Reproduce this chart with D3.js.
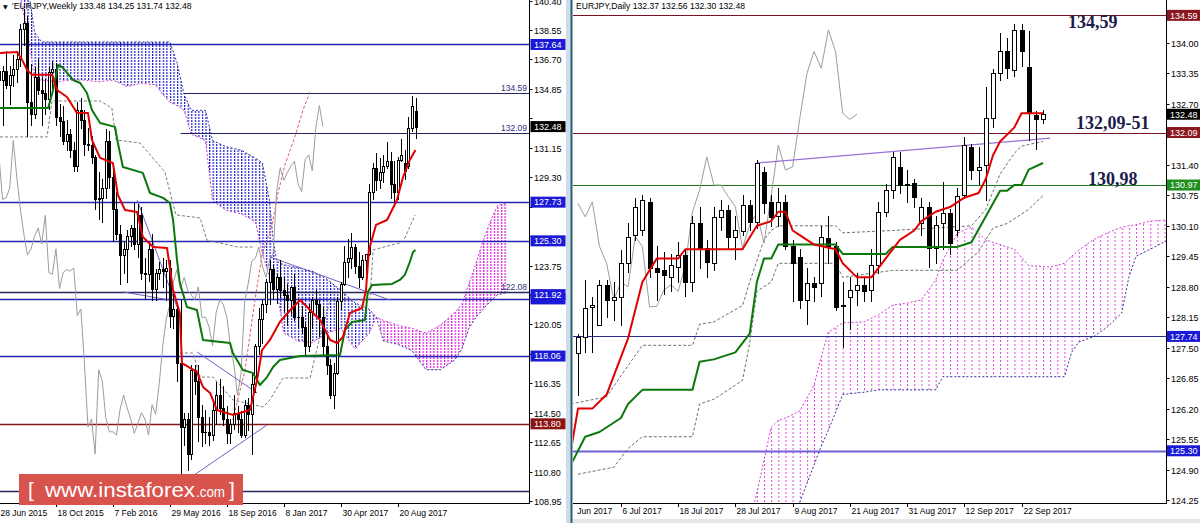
<!DOCTYPE html>
<html><head><meta charset="utf-8">
<script src="https://cdnjs.cloudflare.com/ajax/libs/d3/7.8.5/d3.min.js"></script>
<style>body{margin:0;background:#fff;overflow:hidden}svg{display:block}</style>
</head><body>
<svg id="c" width="1200" height="523"></svg>
<script>
// ===================== DATA =====================
// Weekly EURJPY candles [open, high, low, close], week starting 28 Jun 2015 .. 24 Sep 2017
const weeklyOHLC = [
[136.0,137.3,133.3,135.4],[135.4,136.3,132.6,136.0],[136.0,137.2,134.9,135.1],[135.1,136.3,133.9,135.7],
[135.7,137.0,135.0,136.1],[136.1,137.2,135.3,136.7],[136.7,138.9,136.3,138.6],[138.6,139.9,137.6,139.0],
[139.0,139.4,131.9,134.0],[134.0,136.4,132.6,133.3],[133.3,136.2,133.0,135.6],[135.6,136.7,134.5,134.8],
[134.8,135.6,132.6,134.6],[134.6,135.5,133.3,134.2],[134.2,136.2,133.6,135.9],[135.9,136.6,134.9,136.1],
[136.1,136.5,132.6,133.1],[133.1,133.9,131.9,132.8],[132.8,133.8,131.4,131.6],[131.6,132.9,131.0,132.0],
[132.0,132.3,130.6,131.0],[131.0,131.5,129.7,130.0],[130.0,134.0,129.7,133.5],[133.5,134.3,132.4,132.9],
[132.9,133.5,130.7,131.4],[131.4,132.4,131.0,131.3],[131.3,131.9,130.2,130.6],[130.6,130.7,127.3,127.9],
[127.9,129.6,126.7,128.0],[128.0,129.2,126.5,128.6],[128.6,132.3,128.0,131.6],[131.6,132.2,128.6,129.3],
[129.3,129.8,125.3,127.3],[127.3,128.4,125.4,125.7],[125.7,126.3,122.6,124.4],[124.4,125.2,123.3,124.8],
[124.8,126.0,122.7,125.6],[125.6,126.3,125.0,126.1],[126.1,127.7,124.8,125.1],[125.1,127.6,124.3,126.9],
[126.9,127.4,122.9,123.3],[123.3,124.2,121.7,123.2],[123.2,125.2,122.8,124.8],[124.8,125.7,121.6,122.3],
[122.3,123.5,121.6,123.3],[123.3,124.0,122.9,123.5],[123.5,124.2,122.4,123.4],[123.4,124.1,121.6,123.6],
[123.6,124.1,119.9,120.6],[120.6,122.0,119.8,121.0],[121.0,121.2,116.5,117.6],[117.6,121.6,109.6,113.6],
[113.6,114.5,112.5,114.1],[114.1,114.5,110.9,111.9],[111.9,117.5,111.6,117.2],[117.2,117.5,115.7,116.5],
[116.5,117.5,112.7,114.2],[114.2,115.0,112.4,113.3],[113.3,114.7,112.6,113.3],[113.3,114.2,112.5,113.1],
[113.1,115.2,112.8,114.7],[114.7,116.4,113.8,115.6],[115.6,116.6,114.4,114.8],[114.8,116.2,113.7,114.1],
[114.1,114.9,112.6,113.2],[113.2,114.1,112.6,113.8],[113.8,115.6,113.5,114.5],[114.5,114.9,113.3,114.1],
[114.1,114.6,113.0,113.1],[113.1,115.3,113.0,115.0],[115.0,115.4,113.4,114.4],[114.4,117.0,111.9,116.3],
[116.3,118.8,115.8,118.7],[118.7,121.1,118.2,120.4],[120.4,121.6,118.9,121.3],[121.3,122.9,120.8,122.7],
[122.7,124.1,121.3,123.5],[123.5,123.8,121.7,122.3],[122.3,123.2,121.4,123.0],[123.0,124.1,121.8,122.2],
[122.2,123.0,120.9,121.9],[121.9,122.6,120.0,121.6],[121.6,122.4,120.7,122.4],[122.4,123.2,120.3,120.5],
[120.5,121.4,119.8,120.5],[120.5,121.2,119.5,119.9],[119.9,120.2,118.2,118.7],[118.7,121.3,118.4,120.8],
[120.8,121.8,119.8,121.6],[121.6,122.2,120.7,121.3],[121.3,121.6,119.3,120.5],[120.5,121.2,118.2,118.7],
[118.7,119.3,116.9,117.5],[117.5,117.9,115.4,115.6],[115.6,117.6,114.8,117.0],[117.0,121.8,116.9,121.5],
[121.5,122.7,121.0,122.6],[122.6,125.0,122.5,124.0],[124.0,125.4,123.0,124.2],[124.2,125.8,123.6,124.9],
[124.9,125.1,123.3,123.7],[123.7,124.6,122.4,123.0],[123.0,124.4,122.9,124.1],[124.1,124.4,123.3,124.5],
[124.5,128.9,124.4,128.4],[128.4,130.2,127.9,129.9],[129.9,130.8,128.5,129.1],[129.1,130.5,128.6,129.6],
[129.6,130.7,129.0,130.0],[130.0,131.5,129.9,130.3],[130.3,130.9,128.0,128.9],[128.9,130.3,127.5,128.4],
[128.4,130.6,127.9,130.4],[130.4,131.7,130.3,130.7],[130.2,131.0,129.2,129.7],[130.0,133.1,129.9,132.4],
[132.4,134.4,132.2,133.8],[133.48,134.25,131.74,132.48]
];
const weeklyDateLabels = ["28 Jun 2015","18 Oct 2015","7 Feb 2016","29 May 2016","18 Sep 2016","8 Jan 2017","30 Apr 2017","20 Aug 2017"];
const weeklyDateIdx = [0,16,32,48,64,80,96,112];
const weeklyPriceTicks = [108.95,110.80,112.65,114.50,116.35,118.20,120.05,121.90,123.75,125.60,127.45,129.30,131.15,133.00,134.85,136.70,138.55,140.40];

// weekly indicator lines [bar index, price]
const weeklyTenkan = [[0.3,137.11],[5.1,137.17],[6.5,136.67],[7.9,136.04],[9.3,135.73],[14.9,135.73],[16.3,134.78],[19.1,134.34],[21.9,133.34],[25.0,133.34],[26.1,131.64],[28.4,130.51],[32.0,130.19],[33.4,128.18],[35.4,127.24],[38.8,127.11],[40.4,125.54],[43.3,124.91],[47.2,124.85],[48.9,122.21],[50.8,120.77],[51.4,117.62],[53.7,117.31],[55.6,117.06],[57.3,116.12],[59.3,115.74],[61.2,114.67],[65.7,114.36],[70.5,114.67],[72.5,116.56],[73.9,118.44],[76.1,119.07],[78.9,120.2],[82.6,121.14],[84.6,121.58],[87.4,120.95],[90.2,120.33],[93.0,119.07],[95.0,118.88],[96.6,119.26],[98.6,120.77],[102.0,121.08],[103.1,122.21],[103.9,124.73],[105.9,126.3],[109.0,126.61],[111.8,127.87],[113.5,129.31],[115.4,130.38],[117.0,131.01]];
const weeklyKijun = [[0.3,133.65],[13.8,133.65],[15.2,134.78],[16.6,136.35],[17.7,136.23],[20.8,135.41],[22.8,135.22],[24.7,134.59],[26.1,133.52],[28.4,132.71],[32.6,132.46],[33.4,131.45],[34.8,129.94],[40.4,129.57],[42.4,128.31],[46.1,128.0],[48.0,127.68],[48.9,126.61],[50.0,124.1],[50.8,122.65],[52.8,121.14],[55.6,120.95],[57.3,119.07],[64.9,118.88],[65.7,118.25],[68.5,117.18],[71.3,117.0],[73.3,116.24],[75.3,116.74],[77.0,117.37],[78.9,117.81],[84.6,118.06],[95.8,118.13],[97.2,119.7],[99.2,120.2],[102.8,120.33],[103.6,122.09],[104.8,122.53],[110.4,122.59],[112.6,122.84],[114.0,123.16],[115.4,123.97],[116.3,124.6],[117.0,124.73]];
const weeklyRedDash = [[65.7,114.04],[69.1,117.18],[71.9,121.58],[73.9,124.41],[76.7,126.3],[78.4,128.31],[80.3,130.07],[83.1,131.83],[85.4,133.53],[87.4,134.66]];
const weeklyGrayDash1 = [[0.3,131.83],[13.5,131.83],[14.9,134.09],[28.4,134.09],[31.7,133.65],[32.9,131.64],[39.6,131.45],[46.6,129.63],[49.7,126.93],[56.5,126.74],[58.4,125.35],[67.1,124.91],[71.9,124.91]];
const weeklyGrayDash2 = [[50.8,118.25],[54.5,118.25],[56.5,116.74],[60.1,116.74],[65.7,115.3],[74.2,114.86],[76.1,115.3],[79.8,116.68],[87.4,116.68],[89.6,118.76],[93.0,121.58],[104.2,121.58],[105.1,124.73],[113.5,125.23],[116.9,126.93]];
const weeklyTrendlines = [[[34.8,122.09],[48.0,121.58]],[[38.8,127.87],[50.0,121.14]],[[55.6,118.32],[72.5,115.74]],[[52.8,110.27],[75.3,113.73]],[[76.1,124.29],[109.8,121.58]]];
// weekly Ichimoku cloud (Senkou A / Senkou B)
const weeklyCloudIdx = [4,6,8,9,10,12,16,20,24,28,32,36,40,44,46,48,50,52,54,58,60,64,68,72,74,76,77,78,80,84,88,92,96,100,104,106,108,112,116,120,124,128,130,132,134,136,138,140,143];
const weeklySpanA = [141.5,140.5,138.4,137.0,135.4,135.4,135.3,135.4,135.4,135.3,135.4,135.0,135.2,135.1,134.5,134.0,133.8,133.5,132.0,131.6,127.8,127.2,127.0,126.5,124.5,123.0,122.6,122.3,119.5,119.0,118.9,119.5,119.8,118.5,119.5,120.5,120.3,120.0,119.8,119.5,120.0,120.8,121.3,122.6,123.9,125.3,126.5,127.5,127.73];
const weeklySpanB = [142.5,142,141.5,140,138.4,137.8,137.8,137.8,137.8,137.8,137.8,137.8,137.8,137.8,137.8,137.8,136.5,134.5,133.5,133.5,131.6,131.2,131.0,130.5,130.2,127.8,125.4,124.0,123.8,123.6,123.4,122.9,122.2,121.4,121.0,120.5,119.0,118.8,118.4,117.2,117.2,117.8,118.5,119.8,120.5,121.0,121.5,121.9,122.08];
const weeklyLevels = [137.64,134.59,132.09,127.73,125.30,122.08,121.65,118.06,113.80,109.55];
const weeklyLevelFrom = [0,52,51,0,0,0,0,0,0,0];
const weeklyTextLevels = [134.59,132.09,122.08];
const weeklyBoxes = [137.64,127.73,125.30,121.65,121.92,118.06,113.80,132.48];

// Daily EURJPY candles [open, high, low, close], 28 Jun 2017 .. 27 Sep 2017
const dailyOHLC = [
[127.38,127.80,126.49,127.73],[127.73,128.94,127.41,128.34],[128.37,128.59,127.41,128.40],[127.98,128.94,127.98,128.84],
[128.84,128.94,128.16,128.52],[128.52,128.90,128.10,128.59],[128.59,129.58,127.98,129.30],[129.30,130.15,129.11,129.87],
[129.90,130.70,129.80,130.50],[130.00,130.76,129.90,130.65],[130.61,130.70,129.00,129.20],[129.20,129.66,128.52,129.12],
[129.15,129.55,128.65,129.05],[129.01,129.50,128.70,129.26],[129.23,129.75,128.90,129.48],[129.48,129.60,128.60,128.91],
[128.91,130.30,128.70,130.15],[130.15,130.50,129.20,129.62],[129.62,129.80,129.00,129.33],[129.30,130.50,129.15,130.29],
[130.29,130.65,130.00,130.44],[130.44,130.55,129.60,129.87],[129.87,130.30,129.40,130.01],[129.98,130.75,129.90,130.54],
[130.54,130.65,130.00,130.19],[130.18,131.50,130.05,131.44],[131.25,131.35,130.37,130.58],[130.61,130.75,130.10,130.29],
[130.30,130.90,130.10,130.61],[130.61,130.75,129.60,129.66],[129.66,129.80,128.50,129.30],[129.44,129.60,128.35,128.52],
[128.52,129.20,128.00,128.89],[128.87,129.00,128.50,128.80],[128.89,130.10,128.60,129.87],[129.83,130.30,129.30,129.66],
[129.66,129.75,128.30,128.37],[128.42,128.90,127.52,128.38],[128.59,129.00,127.90,128.73],[128.73,129.10,128.40,128.84],
[128.84,129.00,128.50,128.70],[128.73,129.60,128.50,129.26],[129.26,130.60,129.10,130.40],[130.40,131.00,130.30,130.86],
[130.86,131.68,130.70,131.57],[131.36,131.68,130.80,130.97],[131.00,131.30,130.60,130.97],[131.01,131.10,130.50,130.72],
[130.15,130.70,129.90,130.51],[130.51,130.60,129.23,129.62],[129.62,130.30,129.30,130.12],[130.15,131.04,129.60,130.37],
[130.37,130.45,129.50,129.73],[130.02,130.90,129.90,130.74],[130.76,132.00,130.70,131.82],[131.79,131.85,131.10,131.29],
[131.30,131.79,131.00,131.36],[131.40,133.07,130.65,132.39],[132.39,133.45,132.20,133.35],[133.35,134.21,133.20,133.82],
[133.82,134.10,133.25,133.46],[133.42,134.40,133.30,134.28],[134.28,134.40,133.50,133.82],[133.48,134.25,131.93,132.50],
[132.46,132.55,131.74,132.37],[132.37,132.56,132.30,132.48]
];
const dailyDateLabels = ["26 Jun 2017","6 Jul 2017","18 Jul 2017","28 Jul 2017","9 Aug 2017","21 Aug 2017","31 Aug 2017","12 Sep 2017","22 Sep 2017"];
const dailyDateIdx = [-2,6,14,22,30,38,46,54,62];
const dailyPriceTicks = [124.25,124.90,125.55,126.20,126.85,127.50,128.15,128.80,129.45,130.10,130.75,131.40,132.05,132.70,133.35,134.00,134.65];
const dailyTenkan = [[-1,125.3],[0,126.2],[2,126.2],[4,126.5],[5,126.9],[7,127.7],[9,128.9],[11,129.4],[14,129.4],[15,129.6],[23,129.6],[25,130.1],[27,130.2],[28,130.4],[29,130.4],[30,130.0],[31,129.9],[33,129.7],[36,129.6],[37,129.3],[39,129.0],[41,129.0],[43,129.4],[45,129.8],[47,130.0],[48,130.2],[50,130.4],[52,130.5],[54,130.7],[56,130.8],[57,131.1],[58,131.6],[59,131.9],[61,132.2],[62,132.5],[65,132.5]];
const dailyKijun = [[-1,125.0],[1,125.6],[3,125.7],[6,126.0],[7,126.3],[9,126.6],[16,126.6],[17,127.2],[19,127.25],[22,127.4],[24,127.8],[25,128.9],[26,129.4],[27,129.4],[28,129.7],[36,129.7],[37,129.5],[43,129.5],[44,129.65],[53,129.65],[55,129.75],[57,130.3],[59,130.85],[60,130.85],[61,130.97],[62,130.97],[63,131.3],[65,131.44]];
const dailyDash1 = [[-1,126.3],[4,126.45],[6,126.9],[9,127.55],[16,127.55],[17,128.0],[19,128.05],[23,128.4],[24,128.9],[26,129.8],[27,130.0],[28,130.1],[36,130.1],[37,129.95],[44,130.0],[55,130.1],[57,130.45],[59,131.2],[61,131.65],[62,131.8],[65,131.9]];
const dailyDash2 = [[0,124.8],[5,124.95],[7,125.35],[9,125.6],[16,125.6],[17,126.3],[19,126.4],[23,126.8],[24,127.6],[25,128.7],[27,128.9],[28,129.3],[36,129.3],[37,129.0],[44,129.15],[53,129.15],[56,129.55],[58,130.05],[60,130.15],[63,130.45],[65,130.75]];
const dailyTrendline = [[25,131.44],[66,131.97]];
const dailyCloudIdx = [24,25,26,27,28,29,31,33,34,35,37,40,42,44,46,48,50,51,53,55,57,59,61,63,66,68,69,70,72,74,76,77,78,80,82,84];
const dailySpanA = [123.8,124.4,125.1,125.8,125.95,126.0,126.15,126.7,127.3,127.83,128.03,128.05,128.2,128.41,128.45,128.52,128.94,129.37,129.94,130.07,129.8,129.7,129.6,129.25,129.22,129.3,129.45,129.58,129.8,129.95,130.07,130.1,130.12,130.2,130.22,130.22];
const dailySpanB = [121.5,121.8,122.2,122.6,123.0,123.4,124.2,125.0,125.4,125.74,126.5,126.55,126.6,126.6,126.6,126.6,126.6,126.88,126.88,126.88,126.88,126.88,126.88,126.88,126.88,126.88,127.4,127.62,127.73,127.94,128.24,129.0,129.45,129.6,129.76,129.78];
const dailyLevels = [134.59,132.09,130.97,127.74,125.30];
const dailyBoxes = [134.59,132.09,130.97,127.74,125.30,132.48];
const dailyNotes = ["134,59","132,09-51","130,98"];
const dailyNotePrices = [134.45,132.30,131.10];

// ===================== DRAWING =====================
const FONT = "'Liberation Sans', Arial, sans-serif";
const svg = d3.select("#c");
const defs = svg.append("defs");
svg.append("rect").attr("width",1200).attr("height",523).attr("fill","#fff");

// scales
const xW = d3.scaleLinear().domain([0,117]).range([-1,415.5]);
const yW = d3.scaleLinear().domain([108.95,138.55]).range([501,30]);
const xD = d3.scaleLinear().domain([0,65]).range([578,1043]);
const yD = d3.scaleLinear().domain([124.25,134.00]).range([500,43]);
const wStep = xW(1)-xW(0), dStep = xD(1)-xD(0);

// clips
defs.append("clipPath").attr("id","clipL").append("rect").attr("x",0).attr("y",0).attr("width",529).attr("height",503);
defs.append("clipPath").attr("id","clipR").append("rect").attr("x",573).attr("y",0).attr("width",593).attr("height",503);
defs.append("clipPath").attr("id","clipRB").append("rect").attr("x",575).attr("y",500).attr("width",591).attr("height",23);

// patterns
function dotPattern(id, w, h, color, dw, dh, x0){
  const p = defs.append("pattern").attr("id",id).attr("patternUnits","userSpaceOnUse")
    .attr("width",w).attr("height",h).attr("x",x0).attr("y",0);
  p.append("rect").attr("x",0).attr("y",0).attr("width",dw).attr("height",dh).attr("fill",color);
}
dotPattern("pwBlue", wStep, 3, "#1c1cc8", 1.2, 2, xW(0));
dotPattern("pwMag", wStep, 3, "#e010e0", 1.2, 2, xW(0));
dotPattern("pdBlue", dStep, 4, "#3a3ad0", 1, 2, xD(0));
dotPattern("pdMag", dStep, 4, "#e040e0", 1, 2, xD(0));

function drawCloud(g, idxs, A, B, x, y, patBlue, patMag, id){
  const pts = idxs.map((i,k)=>({i, a:A[k], b:B[k]}));
  const between = d3.area().x(d=>x(d.i)).y0(d=>y(d.a)).y1(d=>y(d.b));
  const above = d3.area().x(d=>x(d.i)).y0(d=>y(d.a)).y1(-3000);
  const below = d3.area().x(d=>x(d.i)).y0(d=>y(d.a)).y1(3000);
  defs.append("clipPath").attr("id",id+"up").append("path").attr("d",above(pts));
  defs.append("clipPath").attr("id",id+"dn").append("path").attr("d",below(pts));
  g.append("path").attr("d",between(pts)).attr("fill",`url(#${patBlue})`).attr("clip-path",`url(#${id}up)`);
  g.append("path").attr("d",between(pts)).attr("fill",`url(#${patMag})`).attr("clip-path",`url(#${id}dn)`);
  g.append("path").attr("d",d3.line().x(d=>x(d.i)).y(d=>y(d.a))(pts)).attr("fill","none")
    .attr("stroke","#d23cd2").attr("stroke-width",1).attr("stroke-dasharray","2,2");
  g.append("path").attr("d",d3.line().x(d=>x(d.i)).y(d=>y(d.b))(pts)).attr("fill","none")
    .attr("stroke","#30309a").attr("stroke-width",1).attr("stroke-dasharray","2,2");
}

function drawLine(g, pts, x, y, color, w, dash){
  const p = g.append("path").attr("d", d3.line().x(d=>x(d[0])).y(d=>y(d[1]))(pts))
    .attr("fill","none").attr("stroke",color).attr("stroke-width",w).attr("stroke-linejoin","round");
  if (dash) p.attr("stroke-dasharray",dash);
  return p;
}

function drawCandles(g, data, x, y, half){
  const gg = g.append("g").attr("shape-rendering","crispEdges");
  const cx = i => Math.round(x(i))+0.5;
  gg.selectAll("line").data(data).join("line")
    .attr("x1",(d,i)=>cx(i)).attr("x2",(d,i)=>cx(i))
    .attr("y1",d=>Math.round(y(d[1]))).attr("y2",d=>Math.round(y(d[2]))+1)
    .attr("stroke","#000");
  gg.selectAll("rect").data(data).join("rect")
    .attr("x",(d,i)=>cx(i)-half)
    .attr("y",d=>Math.round(y(Math.max(d[0],d[3])))+0.5)
    .attr("width",half*2)
    .attr("height",d=>Math.max(0.01, Math.round(y(Math.min(d[0],d[3])))-Math.round(y(Math.max(d[0],d[3])))))
    .attr("fill",d=>d[3]>=d[0]?"#fff":"#000").attr("stroke","#000");
}

// ---------------- LEFT (weekly) ----------------
const gL = svg.append("g").attr("clip-path","url(#clipL)");
drawCloud(gL, weeklyCloudIdx, weeklySpanA, weeklySpanB, xW, yW, "pwBlue","pwMag","wc");
const wLevelColor = p => p===113.80 ? "#8b1414" : ([134.59,132.09,122.08,109.55].includes(p) ? "#26265e" : "#2424b4");
weeklyLevels.forEach((p,k)=>{
  gL.append("line").attr("x1",Math.max(0,xW(weeklyLevelFrom[k]))).attr("x2",529)
    .attr("y1",Math.round(yW(p))+0.5).attr("y2",Math.round(yW(p))+0.5)
    .attr("stroke",wLevelColor(p)).attr("stroke-width", [134.59,132.09].includes(p)?1:1.3);
});
drawLine(gL, weeklyGrayDash1, xW, yW, "#7c7c7c", 1, "3,2");
drawLine(gL, weeklyGrayDash2, xW, yW, "#7c7c7c", 1, "3,2");
drawLine(gL, weeklyRedDash, xW, yW, "#e05a5a", 1, "3,2");
// chikou (weekly close shifted 26 bars back)
const wChikou = weeklyOHLC.slice(26).map((d,k)=>[k,d[3]]);
drawLine(gL, wChikou, xW, yW, "#9c9c9c", 1);
weeklyTrendlines.forEach(t=>drawLine(gL, t, xW, yW, "#7c5cc8", 1));
drawCandles(gL, weeklyOHLC, xW, yW, 1);
drawLine(gL, weeklyKijun, xW, yW, "#0a780a", 2);
drawLine(gL, weeklyTenkan, xW, yW, "#e00000", 2);
weeklyTextLevels.forEach(p=>{
  gL.append("text").attr("x",527).attr("y",yW(p)-2).attr("text-anchor","end")
    .attr("font-family",FONT).attr("font-size",8.5).attr("fill","#30307a").text(p.toFixed(2));
});

// axes left
svg.append("line").attr("x1",529.5).attr("x2",529.5).attr("y1",0).attr("y2",504).attr("stroke","#000");
svg.append("line").attr("x1",0).attr("x2",530).attr("y1",503.5).attr("y2",503.5).attr("stroke","#000");
weeklyPriceTicks.forEach(p=>{
  const yy = Math.round(yW(p))+0.5;
  svg.append("line").attr("x1",529.5).attr("x2",532.5).attr("y1",yy).attr("y2",yy).attr("stroke","#000");
  // tick labels hidden behind a price box are not drawn (the boxes cover them)
  if (weeklyBoxes.some(b=>Math.abs(yW(b)-yW(p))<9)) return;
  svg.append("text").attr("x",534).attr("y",yy+3.3).attr("font-family",FONT).attr("font-size",9).attr("fill","#000").text(p.toFixed(2));
});
const wBoxColor = p => p===132.48 ? "#000" : (p===113.80 ? "#8b1414" : "#1a1ad6");
weeklyBoxes.forEach(p=>{
  const yy = yW(p);
  svg.append("rect").attr("x",530.5).attr("y",yy-5.5).attr("width",35).attr("height",11).attr("fill",wBoxColor(p));
  if (p===121.65) return; // label box mostly covered by the 121.92 box
  svg.append("text").attr("x",534).attr("y",yy+3.3).attr("font-family",FONT).attr("font-size",9).attr("fill","#fff").text(p.toFixed(2));
});
weeklyDateLabels.forEach((s,k)=>{
  const xx = Math.round(xW(weeklyDateIdx[k]))+0.5;
  svg.append("line").attr("x1",xx).attr("x2",xx).attr("y1",503.5).attr("y2",507).attr("stroke","#000");
  svg.append("text").attr("x",xx+1).attr("y",516).attr("font-family",FONT).attr("font-size",8.5).attr("fill","#000").text(s);
});
svg.append("text").attr("x",3).attr("y",8.5).attr("font-family","'DejaVu Sans'").attr("font-size",6).attr("fill","#000").text("▼");
svg.append("text").attr("x",12).attr("y",9).attr("font-family",FONT).attr("font-size",8.6).attr("fill","#000")
  .text("'EURJPY,Weekly  133.48 134.25 131.74 132.48");

// ---------------- RIGHT (daily) ----------------
const gR = svg.append("g").attr("clip-path","url(#clipR)");
drawCloud(gR, dailyCloudIdx, dailySpanA, dailySpanB, xD, yD, "pdBlue","pdMag","dc");
const dLevelColor = {134.59:"#7a1424",132.09:"#7a1424",130.97:"#1a7a1a",127.74:"#2c2c8c",125.30:"#7060d8"};
dailyLevels.forEach(p=>{
  gR.append("line").attr("x1",573).attr("x2",1166).attr("y1",Math.round(yD(p))+0.5).attr("y2",Math.round(yD(p))+0.5)
    .attr("stroke",dLevelColor[p]).attr("stroke-width", p===125.30?2:1.2);
});
drawLine(gR, dailyDash1, xD, yD, "#6f6f6f", 1, "3,2");
drawLine(gR, dailyDash2, xD, yD, "#5f7a5f", 1, "3,2");
const dChikou = dailyOHLC.slice(26).map((d,k)=>[k,d[3]]);
drawLine(gR, dChikou, xD, yD, "#9c9c9c", 1);
drawLine(gR, dailyTrendline, xD, yD, "#9a70d8", 1.2);
drawCandles(gR, dailyOHLC, xD, yD, 2);
drawLine(gR, dailyKijun, xD, yD, "#0a780a", 2);
drawLine(gR, dailyTenkan, xD, yD, "#e00000", 2);
dailyNotes.forEach((s,k)=>{
  const xs = [1068,1076,1088][k];
  gR.append("text").attr("x",xs).attr("y",yD(dailyNotePrices[k])+6).attr("font-family","'Liberation Serif','Times New Roman',serif")
    .attr("font-weight","bold").attr("font-size",18).attr("fill","#1c1c4c").text(s);
});

// axes right
svg.append("line").attr("x1",1166.5).attr("x2",1166.5).attr("y1",0).attr("y2",504).attr("stroke","#000");
svg.append("line").attr("x1",573).attr("x2",1167).attr("y1",503.5).attr("y2",503.5).attr("stroke","#000");
dailyPriceTicks.forEach(p=>{
  const yy = Math.round(yD(p))+0.5;
  svg.append("line").attr("x1",1166.5).attr("x2",1169.5).attr("y1",yy).attr("y2",yy).attr("stroke","#000");
  if (dailyBoxes.some(b=>Math.abs(yD(b)-yD(p))<9)) return;
  svg.append("text").attr("x",1171).attr("y",yy+3.3).attr("font-family",FONT).attr("font-size",9).attr("fill","#000").text(p.toFixed(2));
});
const dBoxColor = p => p===132.48 ? "#000" : (p===130.97 ? "#1e8e1e" : ([134.59,132.09].includes(p) ? "#8a1620" : "#1a1ad6"));
dailyBoxes.forEach(p=>{
  const yy = yD(p);
  svg.append("rect").attr("x",1167).attr("y",yy-5.5).attr("width",33).attr("height",11).attr("fill",dBoxColor(p));
  svg.append("text").attr("x",1170).attr("y",yy+3.3).attr("font-family",FONT).attr("font-size",9).attr("fill","#fff").text(p.toFixed(2));
});
const gRB = svg.append("g").attr("clip-path","url(#clipRB)");
dailyDateLabels.forEach((s,k)=>{
  const xx = Math.round(xD(dailyDateIdx[k]))+0.5;
  gRB.append("line").attr("x1",xx).attr("x2",xx).attr("y1",503.5).attr("y2",507).attr("stroke","#000");
  gRB.append("text").attr("x",xx+1).attr("y",514).attr("font-family",FONT).attr("font-size",8.5).attr("fill","#000").text(s);
});
svg.append("rect").attr("x",573).attr("y",519).attr("width",627).attr("height",4).attr("fill","#e6e6e6");
svg.append("text").attr("x",576).attr("y",9).attr("font-family",FONT).attr("font-size",8.6).attr("fill","#000")
  .text("EURJPY,Daily  132.37 132.56 132.30 132.48");

// splitter
svg.append("rect").attr("x",566).attr("y",0).attr("width",5).attr("height",523).attr("fill","#cddcea");
svg.append("line").attr("x1",571.5).attr("x2",571.5).attr("y1",0).attr("y2",523).attr("stroke","#2c6070").attr("stroke-width",2);

// watermark
const wm = svg.append("g");
wm.append("rect").attr("x",19).attr("y",474).attr("width",224).attr("height",31).attr("fill","#d9534d");
wm.append("text").attr("x",28).attr("y",497).attr("font-family",FONT).attr("font-size",21).attr("fill","#fff").text("[");
wm.append("text").attr("x",45).attr("y",497).attr("font-family",FONT).attr("font-size",21).attr("fill","#fff")
  .attr("textLength",150).attr("lengthAdjust","spacingAndGlyphs").text("www.instaforex");
wm.append("text").attr("x",196).attr("y",497).attr("font-family",FONT).attr("font-size",15).attr("fill","#fff")
  .attr("textLength",29).attr("lengthAdjust","spacingAndGlyphs").text(".com");
wm.append("text").attr("x",229).attr("y",497).attr("font-family",FONT).attr("font-size",21).attr("fill","#fff").text("]");
</script>
</body></html>
